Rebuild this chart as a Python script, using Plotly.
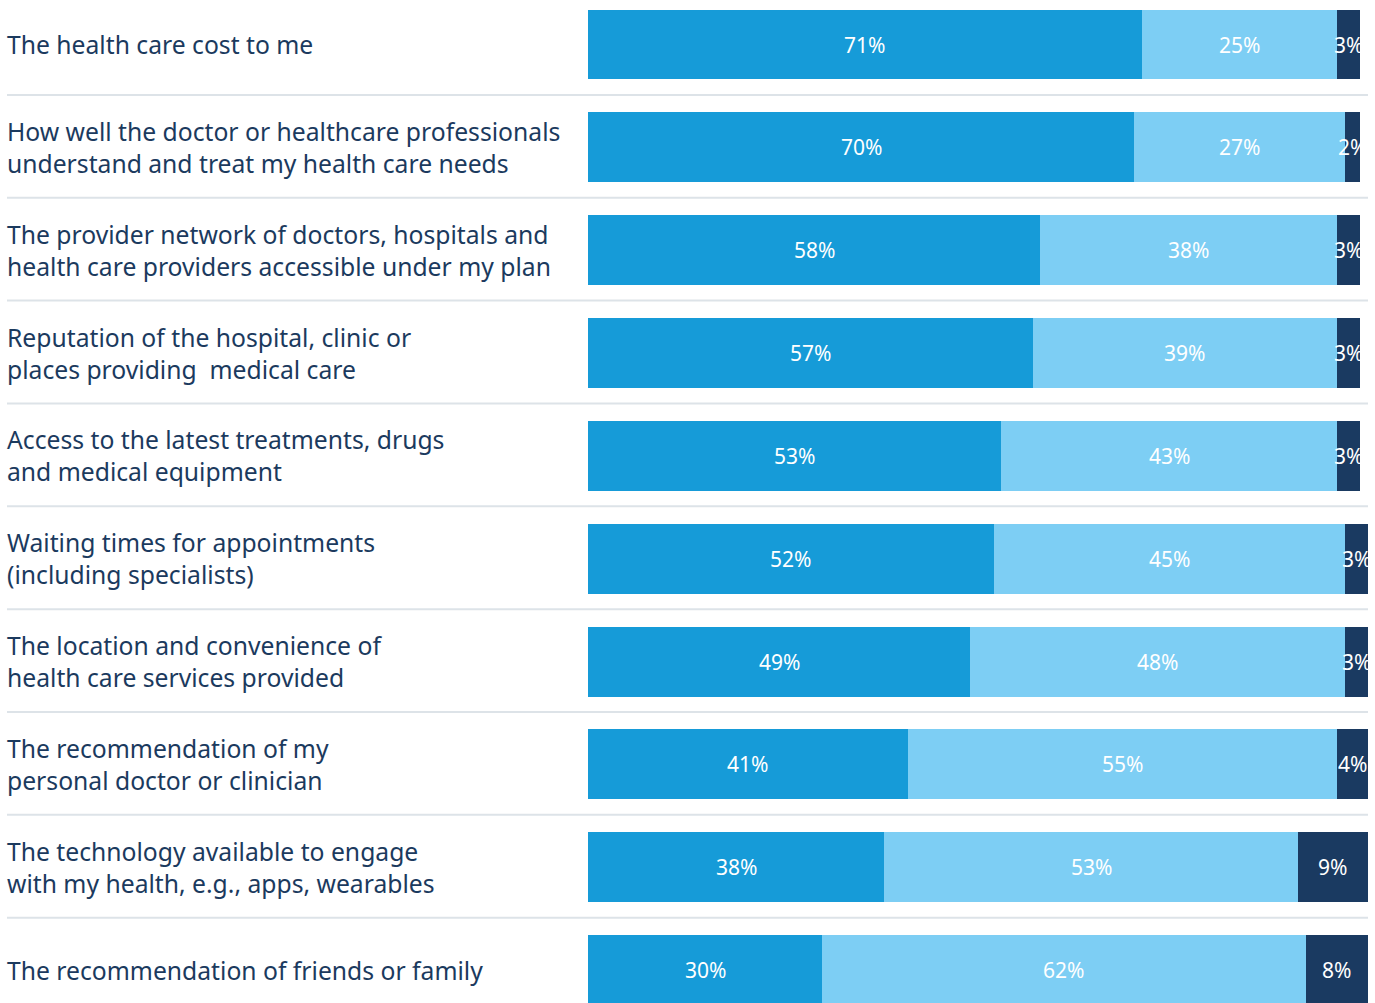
import plotly.graph_objects as go

# Survey items, top to bottom
categories = [
    "The health care cost to me",
    "How well the doctor or healthcare professionals<br>understand and treat my health care needs",
    "The provider network of doctors, hospitals and<br>health care providers accessible under my plan",
    "Reputation of the hospital, clinic or<br>places providing  medical care",
    "Access to the latest treatments, drugs<br>and medical equipment",
    "Waiting times for appointments<br>(including specialists)",
    "The location and convenience of<br>health care services provided",
    "The recommendation of my<br>personal doctor or clinician",
    "The technology available to engage<br>with my health, e.g., apps, wearables",
    "The recommendation of friends or family",
]

# Share of respondents per answer group (%)
series_a = [71, 70, 58, 57, 53, 52, 49, 41, 38, 30]
series_b = [25, 27, 38, 39, 43, 45, 48, 55, 53, 62]
series_c = [3, 2, 3, 3, 3, 3, 3, 4, 9, 8]

colors = ["#169bd8", "#7dcef4", "#1a3a61"]
text_color = "#1b3a5e"

W, H = 1375, 1003
row_px = 102.85
first_center_px = 44.5
y_top = -first_center_px / row_px
y_bottom = y_top + H / row_px

rows = list(range(len(categories)))

fig = go.Figure()
base = [0] * len(rows)
for vals, col in zip([series_a, series_b, series_c], colors):
    fig.add_trace(go.Bar(
        x=vals,
        y=rows,
        orientation="h",
        width=0.68,
        marker=dict(color=col, line=dict(width=0)),
        hoverinfo="skip",
    ))
    # Percentage label centred in each segment
    for i, v in enumerate(vals):
        fig.add_annotation(
            x=base[i] + v / 2, xref="x", xanchor="center",
            y=i, yref="y", yanchor="middle",
            text=f"{v}%", showarrow=False,
            font=dict(size=21, color="white", family="Noto Sans"),
        )
        base[i] += v

# Row labels on the left
for i, cat in enumerate(categories):
    fig.add_annotation(
        x=5 / W, xref="paper", xanchor="left",
        y=i, yref="y", yanchor="middle",
        text=cat, showarrow=False, align="left",
        font=dict(size=24.7, color=text_color, family="Noto Sans"),
    )

# Thin separators between rows
for i in range(len(categories) - 1):
    fig.add_shape(
        type="line", xref="paper", yref="y",
        x0=7 / W, x1=1368 / W, y0=i + 0.49, y1=i + 0.49,
        line=dict(color="#dde3e8", width=2),
    )

fig.update_layout(
    width=W, height=H,
    barmode="stack",
    showlegend=False,
    plot_bgcolor="white",
    paper_bgcolor="white",
    margin=dict(l=0, r=0, t=0, b=0),
    bargap=0,
    xaxis=dict(domain=[588 / W, 1368 / W], range=[0, 100], visible=False, fixedrange=True),
    yaxis=dict(range=[y_bottom, y_top], visible=False, fixedrange=True),
)

fig.write_html("out.html")
